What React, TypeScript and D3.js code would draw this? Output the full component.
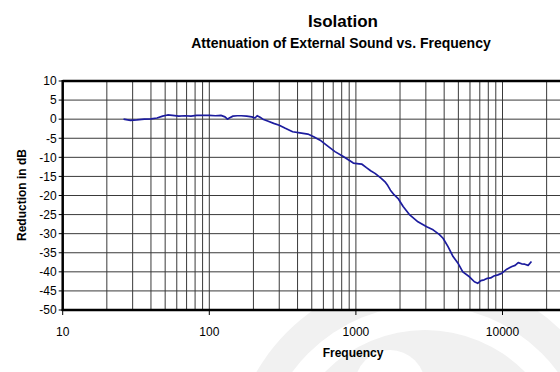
import React, { useEffect, useRef } from 'react';
import * as d3 from 'd3';

// frequency (Hz) and attenuation (dB)
const freqs = [
  26, 29, 32, 36, 40, 44, 48, 52, 56, 62, 68, 75, 82, 90, 100, 110, 120, 128, 133, 138,
  145, 155, 165, 180, 195, 205, 212, 222, 232, 250, 275, 300, 330, 370, 415, 470, 515, 570,
  630, 720, 820, 910, 960, 1050, 1100, 1180, 1260, 1350, 1490, 1580, 1650, 1720, 1820, 1950,
  2100, 2330, 2650, 3040, 3360, 3700, 3930, 4250, 4600, 5000, 5360, 5950, 6430, 6770, 7120,
  7500, 7890, 8300, 8730, 9300, 9860, 10700, 11600, 12200, 12800, 13500, 14200, 14960, 15760,
];
const reduction = [
  0, -0.3, -0.2, 0, 0.1, 0.3, 0.8, 1.1, 1.0, 0.8, 0.9, 0.8, 1.0, 1.0, 1.0, 0.9, 1.0, 0.6, 0, 0.4,
  0.8, 0.9, 0.9, 0.8, 0.6, 0.3, 0.9, 0.5, 0, -0.5, -1.1, -1.6, -2.4, -3.3, -3.6, -3.9, -4.6, -5.5,
  -6.8, -8.5, -9.8, -10.9, -11.5, -11.7, -11.8, -12.7, -13.5, -14.2, -15.5, -16.4, -17.4, -18.6, -19.8, -20.9,
  -22.9, -25.1, -26.9, -28.2, -29.0, -30.2, -31.2, -33.4, -36.0, -37.9, -40.0, -41.3, -42.6, -43.0, -42.3,
  -42.1, -41.7, -41.6, -41.1, -40.8, -40.4, -39.3, -38.6, -38.3, -37.6, -37.9, -38.0, -38.3, -37.3,
];
const yTicks = [10, 5, 0, -5, -10, -15, -20, -25, -30, -35, -40, -45, -50];
const xTicks = [10, 100, 1000, 10000];

const font = '"Liberation Sans", Arial, sans-serif';

const IsolationChart = () => {
  const svgRef = useRef(null);

  useEffect(() => {
    const width = 560, height = 372;
    const svg = d3.select(svgRef.current);
    svg.selectAll('*').remove();

    const left = 62.7, top = 81, bottom = 310;
    const x = d3.scaleLog().domain([10, 100000]).range([left, left + 146.6 * 4]);
    const y = d3.scaleLinear().domain([-50, 10]).range([bottom, top]);

    // faint logo watermark behind the chart
    const wm = svg.append('g');
    wm.append('circle').attr('cx', 425).attr('cy', 470).attr('r', 195).attr('fill', '#f1f1f1');
    wm.append('circle').attr('cx', 425).attr('cy', 470).attr('r', 165).attr('fill', '#fff');
    wm.append('circle').attr('cx', 425).attr('cy', 470).attr('r', 140).attr('fill', '#f1f1f1');
    wm.append('circle').attr('cx', 390).attr('cy', 385).attr('r', 35).attr('fill', '#fff');

    // plot area
    svg.append('rect')
      .attr('x', left).attr('y', top)
      .attr('width', width - left + 10).attr('height', bottom - top)
      .attr('fill', '#fff');

    // grid
    const grid = svg.append('g').attr('stroke', '#3a3a3a').attr('stroke-width', 1);
    yTicks.filter(v => v > -50 && v < 10).forEach(v => {
      grid.append('line')
        .attr('x1', left).attr('x2', width)
        .attr('y1', y(v)).attr('y2', y(v));
    });
    const vlines = [];
    for (let dec = 10; dec < 100000; dec *= 10) {
      for (let m = 1; m <= 9; m++) {
        if (dec * m > 10) vlines.push(dec * m);
      }
    }
    vlines.forEach(f => {
      grid.append('line')
        .attr('x1', x(f)).attr('x2', x(f))
        .attr('y1', top).attr('y2', bottom);
    });

    // data line
    const data = freqs.map((f, i) => [f, reduction[i]]);
    svg.append('path')
      .datum(data)
      .attr('fill', 'none')
      .attr('stroke', '#1c1c9e')
      .attr('stroke-width', 1.7)
      .attr('stroke-linejoin', 'round')
      .attr('d', d3.line().x(d => x(d[0])).y(d => y(d[1])));

    // frame
    svg.append('line').attr('x1', left).attr('x2', width).attr('y1', top).attr('y2', top)
      .attr('stroke', '#000').attr('stroke-width', 2.5);
    svg.append('line').attr('x1', left - 1).attr('x2', width).attr('y1', bottom).attr('y2', bottom)
      .attr('stroke', '#000').attr('stroke-width', 2.5);
    svg.append('line').attr('x1', left).attr('x2', left).attr('y1', top - 1).attr('y2', bottom + 1)
      .attr('stroke', '#000').attr('stroke-width', 2.5);

    // y ticks + labels
    yTicks.forEach(v => {
      svg.append('line').attr('x1', left - 4).attr('x2', left).attr('y1', y(v)).attr('y2', y(v))
        .attr('stroke', '#000').attr('stroke-width', 1);
      svg.append('text')
        .attr('x', left - 6).attr('y', y(v) + 4.3)
        .attr('text-anchor', 'end')
        .attr('font-family', font).attr('font-size', 12)
        .text(v);
    });

    // x ticks + labels
    xTicks.forEach(f => {
      svg.append('line').attr('x1', x(f)).attr('x2', x(f)).attr('y1', bottom).attr('y2', bottom + 5)
        .attr('stroke', '#000').attr('stroke-width', 1);
      svg.append('text')
        .attr('x', x(f)).attr('y', bottom + 26)
        .attr('text-anchor', 'middle')
        .attr('font-family', font).attr('font-size', 12)
        .text(f);
    });

    // titles
    svg.append('text')
      .attr('x', 343).attr('y', 27)
      .attr('text-anchor', 'middle')
      .attr('font-family', font).attr('font-size', 17).attr('font-weight', 'bold')
      .text('Isolation');
    svg.append('text')
      .attr('x', 341).attr('y', 48)
      .attr('text-anchor', 'middle')
      .attr('font-family', font).attr('font-size', 14).attr('font-weight', 'bold')
      .text('Attenuation of External Sound vs. Frequency');
    svg.append('text')
      .attr('x', 353).attr('y', 357)
      .attr('text-anchor', 'middle')
      .attr('font-family', font).attr('font-size', 12).attr('font-weight', 'bold')
      .text('Frequency');
    svg.append('text')
      .attr('transform', 'translate(26,195) rotate(-90)')
      .attr('text-anchor', 'middle')
      .attr('font-family', font).attr('font-size', 12).attr('font-weight', 'bold')
      .text('Reduction in dB');
  }, []);

  return (
    <div style={{ position: 'absolute', left: 0, top: 0 }}>
      <svg ref={svgRef} width={560} height={372} style={{ display: 'block' }} />
    </div>
  );
};

export default function App() {
  return <IsolationChart />;
}
